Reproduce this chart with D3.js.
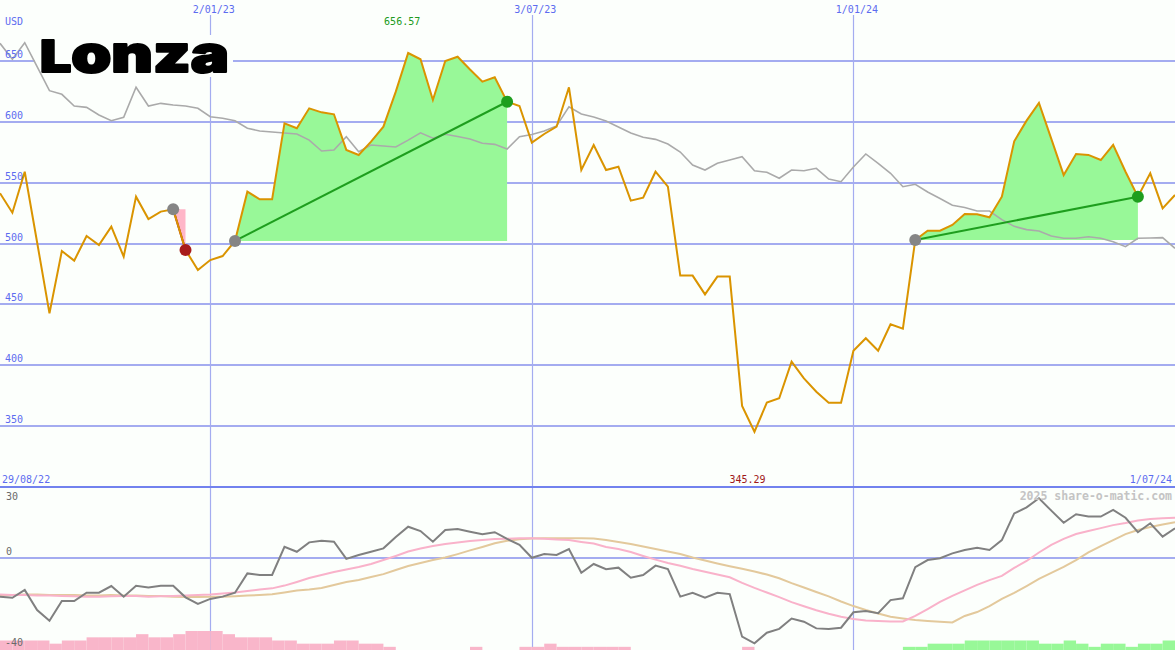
<!DOCTYPE html>
<html><head><meta charset="utf-8">
<script src="https://cdn.jsdelivr.net/npm/d3@7"></script>
<style>
html,body{margin:0;padding:0;background:#fcfffc;}
svg{display:block;}
</style></head><body>
<svg id="chart" width="1175" height="650"></svg>
<script>
// ---------- data ----------
const firstWeek = "5/09/22";
const price = [541.3,525.3,559,501,442.6,493.8,485.9,506.2,498.8,513.8,
  489.2,538.5,520.1,526.2,528.1,494.7,478.2,486.4,489.7,502.1,
  542.6,536.3,536.3,598.8,594.7,611.1,607.8,606.2,576.9,572.7,
  583.7,596,624.8,656.57,651.4,618,650,653.5,643,633,
  636.6,616.5,613,582.9,590,596,628.4,560.4,581,560.4,
  563.1,535.2,537.7,559,546.7,473.6,473.6,458.2,472.8,472.8,
  366.4,345.29,369.2,372.8,402.9,389.2,378.2,369.2,369.2,411.9,
  422.1,411.9,433.6,430,502.9,510.5,510.5,515.2,524.3,524,
  521.5,538.5,584,601,615.5,586,556.3,573.6,572.8,568.6,
  581,559,538.5,557.7,528.9,539.9];
const benchmark = [664.5,651.4,665,645.3,625.6,622.6,613,611.9,605.6,600.9,
  603.7,628.4,613,615.2,613.8,613,611.1,604.2,602.9,600.9,
  594.7,592.5,591.6,590.8,590,585,576,576.9,587.8,575.5,
  581,580.1,579.3,585,591,586.5,589.8,587.9,585.9,582.4,
  581.5,577.7,587.8,589.6,592.5,596.6,612.4,606.4,604,600.7,
  595.8,590.8,587.3,585.6,581.8,575.2,564.5,560.4,565.9,568.6,
  571.3,559.8,558.5,553.6,560.4,559.8,561.8,553,550.8,562.9,
  573.6,565.9,557.7,546.7,548.7,542.3,537,531.4,529.6,526.7,
  526.7,519.6,514.1,511.4,510.3,506.2,504.3,504.3,505.6,504.3,
  501.5,497.4,504.3,504.5,504.8,496];
const oscillator = [-16.8,-17.3,-13.9,-22.6,-27.3,-18.7,-18.7,-15.1,-15.1,-12.2,
  -16.8,-12.1,-12.8,-12.1,-12.1,-17.1,-20,-17.8,-16.8,-15.1,
  -6.7,-7.4,-7.4,4.9,2.7,6.8,7.5,7.1,-0.4,1.3,
  2.7,4.2,9.1,13.6,11.7,7.1,12.2,12.6,11.4,10.3,
  11.2,8.3,5.7,0.1,1.7,1.3,3.9,-6.4,-2.6,-4.9,
  -4.2,-8.6,-7.4,-3.3,-4.8,-16.8,-15.1,-17.3,-15.1,-15.7,
  -34.2,-37.1,-32.5,-30.8,-26.3,-27.7,-30.6,-30.9,-30.3,-23.6,
  -23,-24,-18.3,-17.5,-4,-0.9,-0.1,2,3.5,4.5,
  3.5,7.8,19.4,22,26,20.6,15.3,19,18,18,
  20.9,17.5,11.2,15.1,9.3,12.9];
const oscFast = [-15.9,-16.1,-16.1,-16.3,-16.3,-16.5,-16.6,-16.8,-16.8,-16.6,
  -16.5,-16.5,-16.8,-16.6,-16.5,-16.3,-16.1,-15.9,-15.4,-15,
  -14.3,-13.7,-13.2,-12,-10.4,-8.7,-7.4,-6.1,-5,-3.9,
  -2.6,-0.9,0.9,2.8,4.1,5.2,6.1,6.7,7.4,7.8,
  8.3,8.4,8.6,8.6,8.4,8,7.8,7,6.3,4.8,
  3.9,2.6,0.9,-0.7,-2.2,-3.4,-4.8,-6,-7.2,-8.4,
  -10.8,-13,-15,-17,-19.2,-21,-22.7,-24.2,-25.5,-26.5,
  -27.2,-27.4,-27.6,-27.6,-25.2,-22.2,-19.1,-16.5,-14.1,-11.7,
  -9.6,-7.8,-4.3,-1.3,2.4,5.7,8.3,10.4,11.7,13,
  14.3,15.2,16.3,17,17.3,17.5];
const oscSlow = [-16.3,-16.1,-15.9,-15.9,-16.1,-16.1,-16.1,-16.3,-16.3,-16.1,
  -16.3,-16.3,-16.5,-16.5,-16.8,-17,-17,-16.8,-16.8,-16.6,
  -16.3,-16.1,-15.8,-15,-14.1,-13.7,-13,-11.7,-10.4,-9.6,
  -8.3,-7,-5.2,-3.5,-2.2,-0.9,0.2,1.7,3.3,4.8,
  6.4,7.5,8.1,8.5,8.6,8.6,8.6,8.6,8.5,7.8,
  7,6.1,5,3.9,2.8,1.7,0.2,-1.1,-2.4,-3.6,
  -4.7,-5.9,-7.2,-8.8,-10.9,-12.8,-14.8,-16.7,-18.9,-20.9,
  -22.6,-24.1,-25.5,-26.3,-27,-27.4,-27.7,-28,-25.2,-23.5,
  -20.9,-17.8,-15.2,-12.2,-9.1,-6.5,-3.9,-0.9,2.4,5.2,
  7.8,10.4,12.2,13.5,14.6,15.5];
const histogram = [-3,-3,-3,-3,-2,-3,-3,-4,-4,-4,
  -4,-5,-4,-4,-5,-6,-6,-6,-5,-4,
  -4,-4,-3,-3,-2,-2,-2,-3,-3,-2,
  -2,-1,0,0,0,0,0,0,-1,0,
  0,0,-1,-1,-2,-1,-1,-1,-1,-1,
  -1,0,0,0,0,0,0,0,0,0,
  -1,0,0,0,0,0,0,0,0,0,
  0,0,0,1,1,2,2,2,3,3,
  3,3,3,3,2,2,3,2,1,2,
  2,1,2,2,3,0];
const trades = [{from:14,to:15},{from:19,to:41},{from:74,to:92}];
const priceTicks = [650,600,550,500,450,400,350];
const dateTicks = ["2/01/23","3/07/23","1/01/24"];
const rangeLabels = ["29/08/22","1/07/24"];
const oscTicks = [30,0,-40];
const currency = "USD";
const brand = "Lonza";
const watermark = "2025 share-o-matic.com";

// ---------- drawing ----------
const W = 1175, H = 650, BG = "#fcfffc";
const MONO = "'DejaVu Sans Mono', monospace";
const parse = d3.utcParse("%d/%m/%y");
const t0 = parse(firstWeek);
const dates = price.map((_, i) => d3.utcDay.offset(t0, 7 * i));

const x = d3.scaleUtc().domain([dates[0], dates[dates.length - 1]]).range([0, W]);
const y = d3.scaleLinear().domain([350, 650]).range([426, 61]);
const yo = d3.scaleLinear().domain([-40, 30]).range([650, 489]);
const yh = d3.scaleLinear().domain([0, 6]).range([0, 19]);

const svg = d3.select("#chart");
svg.append("rect").attr("width", W).attr("height", H).attr("fill", BG);

// vertical date lines
svg.append("g").selectAll("line").data(dateTicks).join("line")
  .attr("x1", d => Math.round(x(parse(d))) + 0.5)
  .attr("x2", d => Math.round(x(parse(d))) + 0.5)
  .attr("y1", 15).attr("y2", H)
  .attr("stroke", "#a4acf0").attr("stroke-width", 1.2);

// horizontal price grid
svg.append("g").selectAll("line").data(priceTicks).join("line")
  .attr("x1", 0).attr("x2", W)
  .attr("y1", d => Math.round(y(d))).attr("y2", d => Math.round(y(d)))
  .attr("stroke", "#a4acf0").attr("stroke-width", 2);

// oscillator panel separators
svg.append("line").attr("x1", 0).attr("x2", W).attr("y1", 487).attr("y2", 487)
  .attr("stroke", "#7282ee").attr("stroke-width", 2);
svg.append("line").attr("x1", 0).attr("x2", W)
  .attr("y1", Math.round(yo(0))).attr("y2", Math.round(yo(0)))
  .attr("stroke", "#a4acf0").attr("stroke-width", 2);

// logo
const logo = svg.append("g");
logo.append("rect").attr("x", 35).attr("y", 35).attr("width", 198).attr("height", 42).attr("fill", BG);
const lt = logo.append("text").attr("x", 40).attr("y", 72)
  .attr("font-family", "Inter, Lato, 'Open Sans', sans-serif").attr("font-weight", 900)
  .attr("fill", "#000").attr("stroke", "#000").attr("stroke-width", 2).attr("stroke-linejoin", "round")
  .attr("textLength", 189).attr("lengthAdjust", "spacingAndGlyphs");
lt.append("tspan").attr("font-size", 44).text(brand.slice(0, 1));
lt.append("tspan").attr("font-size", 51).text(brand.slice(1));

// histogram bars
const bars = histogram.map((v, i) => ({v, i})).filter(d => d.v !== 0 && d.i < dates.length - 1);
svg.append("g").selectAll("rect").data(bars).join("rect")
  .attr("x", d => x(dates[d.i]))
  .attr("width", d => x(dates[d.i + 1]) - x(dates[d.i]))
  .attr("y", d => H - yh(Math.abs(d.v)))
  .attr("height", d => yh(Math.abs(d.v)))
  .attr("fill", d => d.v < 0 ? "#f9b6ca" : "#98f898");

// oscillator lines
const oLine = d3.line().x((d, i) => x(dates[i])).y(d => yo(d));
svg.append("path").attr("d", oLine(oscSlow)).attr("fill", "none").attr("stroke", "#e3c99c").attr("stroke-width", 2);
svg.append("path").attr("d", oLine(oscFast)).attr("fill", "none").attr("stroke", "#f9b2ca").attr("stroke-width", 2);
svg.append("path").attr("d", oLine(oscillator)).attr("fill", "none").attr("stroke", "#808080").attr("stroke-width", 2);

// trade fills
trades.forEach(t => {
  const idx = d3.range(t.from, t.to + 1);
  const base = price[t.from];
  const gain = price[t.to] >= base;
  const area = d3.area().x(i => x(dates[i])).y0(y(base)).y1(i => y(price[i]));
  svg.append("path").attr("d", area(idx)).attr("fill", gain ? "#98f898" : "#ffb6c8");
});

// benchmark
const pLine = d3.line().x((d, i) => x(dates[i])).y(d => y(d));
svg.append("path").attr("d", pLine(benchmark)).attr("fill", "none").attr("stroke", "#aaaaaa").attr("stroke-width", 1.6);

// trade lines (under the price line)
const tradeCol = t => price[t.to] >= price[t.from] ? "#1e9e1e" : "#a81c1c";
trades.forEach(t => {
  svg.append("line")
    .attr("x1", x(dates[t.from])).attr("y1", y(price[t.from]))
    .attr("x2", x(dates[t.to])).attr("y2", y(price[t.to]))
    .attr("stroke", tradeCol(t)).attr("stroke-width", 2);
});

// price
svg.append("path").attr("d", pLine(price)).attr("fill", "none").attr("stroke", "#da9400").attr("stroke-width", 2);

// trade markers
trades.forEach(t => {
  svg.append("circle").attr("cx", x(dates[t.from])).attr("cy", y(price[t.from])).attr("r", 6).attr("fill", "#858585");
  svg.append("circle").attr("cx", x(dates[t.to])).attr("cy", y(price[t.to])).attr("r", 6).attr("fill", tradeCol(t));
});

// texts
const txt = (sel) => sel.attr("font-family", MONO).attr("font-size", 10);
svg.append("g").selectAll("text").data(priceTicks).join("text").call(txt)
  .attr("x", 5).attr("y", d => Math.round(y(d)) - 3).attr("fill", "#5c6cf0").text(d => d);
svg.append("text").call(txt).attr("x", 5).attr("y", 25).attr("fill", "#5c6cf0").text(currency);
svg.append("g").selectAll("text").data(dateTicks).join("text").call(txt)
  .attr("x", d => x(parse(d)) + 3.5).attr("y", 13).attr("text-anchor", "middle")
  .attr("fill", "#5c6cf0").text(d => d);
svg.append("text").call(txt).attr("x", 2).attr("y", 483).attr("fill", "#5c6cf0").text(rangeLabels[0]);
svg.append("text").call(txt).attr("x", 1172).attr("y", 483).attr("text-anchor", "end").attr("fill", "#5c6cf0").text(rangeLabels[1]);

const iMax = d3.maxIndex(price), iMin = d3.minIndex(price);
svg.append("text").call(txt).attr("x", x(dates[iMax]) - 6).attr("y", 25).attr("text-anchor", "middle")
  .attr("fill", "#209a20").text(price[iMax].toFixed(2));
svg.append("text").call(txt).attr("x", x(dates[iMin]) - 7).attr("y", 483).attr("text-anchor", "middle")
  .attr("fill", "#a01818").text(price[iMin].toFixed(2));

const oscLabelY = {30: 500, 0: Math.round(yo(0)) - 3, "-40": 646};
svg.append("g").selectAll("text").data(oscTicks).join("text").call(txt)
  .attr("x", d => d < 0 ? 5 : 6).attr("y", d => oscLabelY[d]).attr("fill", "#6a6a6a").text(d => d);

svg.append("text").attr("font-family", MONO).attr("font-size", 11.5).attr("font-weight", "bold")
  .attr("x", 1172).attr("y", 500).attr("text-anchor", "end").attr("fill", "#c4c4c4").text(watermark);
</script>
</body></html>
